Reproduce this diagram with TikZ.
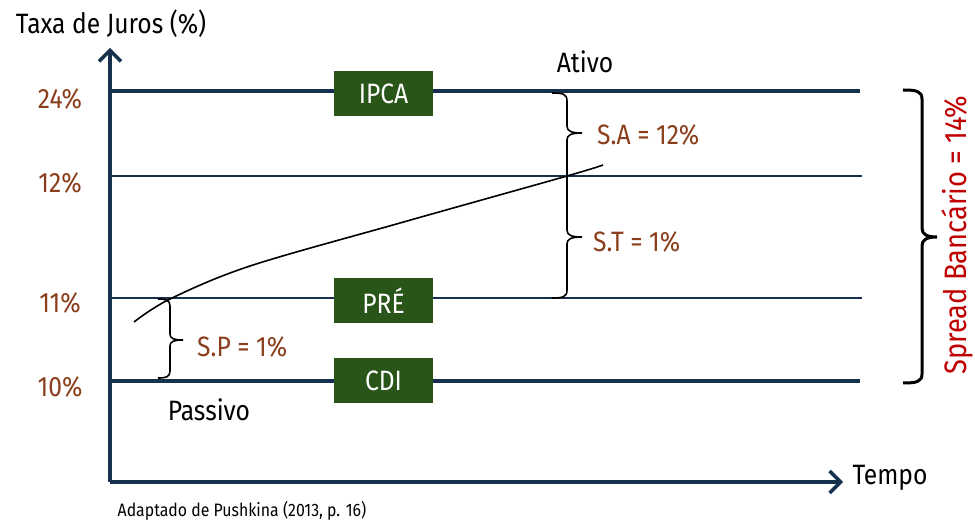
\documentclass[tikz,border=0pt]{standalone}
\usepackage{fontspec}
\setmainfont{Fira Sans}[FakeStretch=0.88]
\usetikzlibrary{arrows.meta}
\definecolor{axisnavy}{HTML}{17304D}
\definecolor{boxgreen}{HTML}{2A5519}
\definecolor{ratebrown}{HTML}{8B3E1B}
\definecolor{spreadred}{HTML}{C00000}

\begin{document}
\begin{tikzpicture}[x=1pt,y=-1pt,
  every node/.style={inner sep=0pt,font=\fontsize{28}{32}\selectfont},
  axisline/.style={line width=3.5pt,color=axisnavy,
    -{Straight Barb[length=11pt,width=22pt,line width=3.5pt]}},
  majorrate/.style={line width=3.5pt,color=axisnavy},
  minorrate/.style={line width=1.3pt,color=axisnavy},
  ratelabel/.style={text=ratebrown},
  ratebox/.style={fill=boxgreen,text=white,minimum width=99pt,minimum height=45pt},
  spreadlabel/.style={text=ratebrown,anchor=west},
  smallbrace/.style={line width=1.6pt,black},
  bigbrace/.style={line width=3pt,black},
  yieldcurve/.style={line width=1.6pt,black}]
\useasboundingbox (0,0) rectangle (975,521);

% axes
\coordinate (origin) at (110,482);
\coordinate (ytip) at (110,48);
\coordinate (xtip) at (843,482);
\draw[axisline] (origin) -- (ytip);
\draw[axisline] (origin) -- (xtip);
\node (ytitle) at (111,24) {Taxa de Juros (\%)};
\node (xtitle) at (890,478) {Tempo};

% rate levels
\draw[majorrate] (110,91) -- (860,91);
\draw[minorrate] (110,176) -- (862,176);
\draw[minorrate] (110,298) -- (862,298);
\draw[majorrate] (110,381) -- (860,381);

\node[ratelabel] (l24) at (60,99) {24\%};
\node[ratelabel] (l12) at (60,183) {12\%};
\node[ratelabel] (l11) at (60,303) {11\%};
\node[ratelabel] (l10) at (60,387) {10\%};

\node[ratebox] (ipca) at (383.5,93.5) {IPCA};
\node[ratebox] (pre) at (383.5,300.5) {PRÉ};
\node[ratebox] (cdi) at (383.5,380.5) {CDI};

\node (ativo) at (585,62) {Ativo};
\node (passivo) at (209,410) {Passivo};

% yield curve
\draw[yieldcurve] plot[smooth,tension=0.55] coordinates
  {(134,322) (170,299) (250,266) (400,223) (567,176) (603,165)};

% braces for S.A and S.T
\draw[smallbrace] (552,93) .. controls (563,93) and (567,94) .. (567,101)
  -- (567,126) .. controls (567,131) and (571,133) .. (582,133)
  .. controls (571,133) and (567,135) .. (567,140)
  -- (567,230) .. controls (567,235) and (571,237) .. (582,237)
  .. controls (571,237) and (567,239) .. (567,244)
  -- (567,290) .. controls (567,297) and (563,298) .. (552,298);
\node[spreadlabel] (sa) at (597,135) {S.A = 12\%};
\node[spreadlabel] (st) at (593,242) {S.T = 1\%};

% brace for S.P
\draw[smallbrace] (158,299) .. controls (166,299) and (170,300) .. (170,306)
  -- (170,334) .. controls (170,338) and (173,340) .. (183,340)
  .. controls (173,340) and (170,342) .. (170,346)
  -- (170,371) .. controls (170,377) and (166,378) .. (158,378);
\node[spreadlabel] (sp) at (197,347) {S.P = 1\%};

% overall spread brace
\draw[bigbrace] (903,90) .. controls (916,90) and (922,91) .. (922,99)
  -- (922,228) .. controls (922,234) and (926,237) .. (937,237)
  .. controls (926,237) and (922,240) .. (922,246)
  -- (922,374) .. controls (922,382) and (916,383) .. (903,383);
\node[text=spreadred,rotate=90,font=\fontsize{31}{36}\selectfont] (spread) at (957,235) {Spread Bancário = 14\%};

\node[font=\fontsize{18}{21}\selectfont] (source) at (242,511) {Adaptado de Pushkina (2013, p. 16)};
\end{tikzpicture}
\end{document}
